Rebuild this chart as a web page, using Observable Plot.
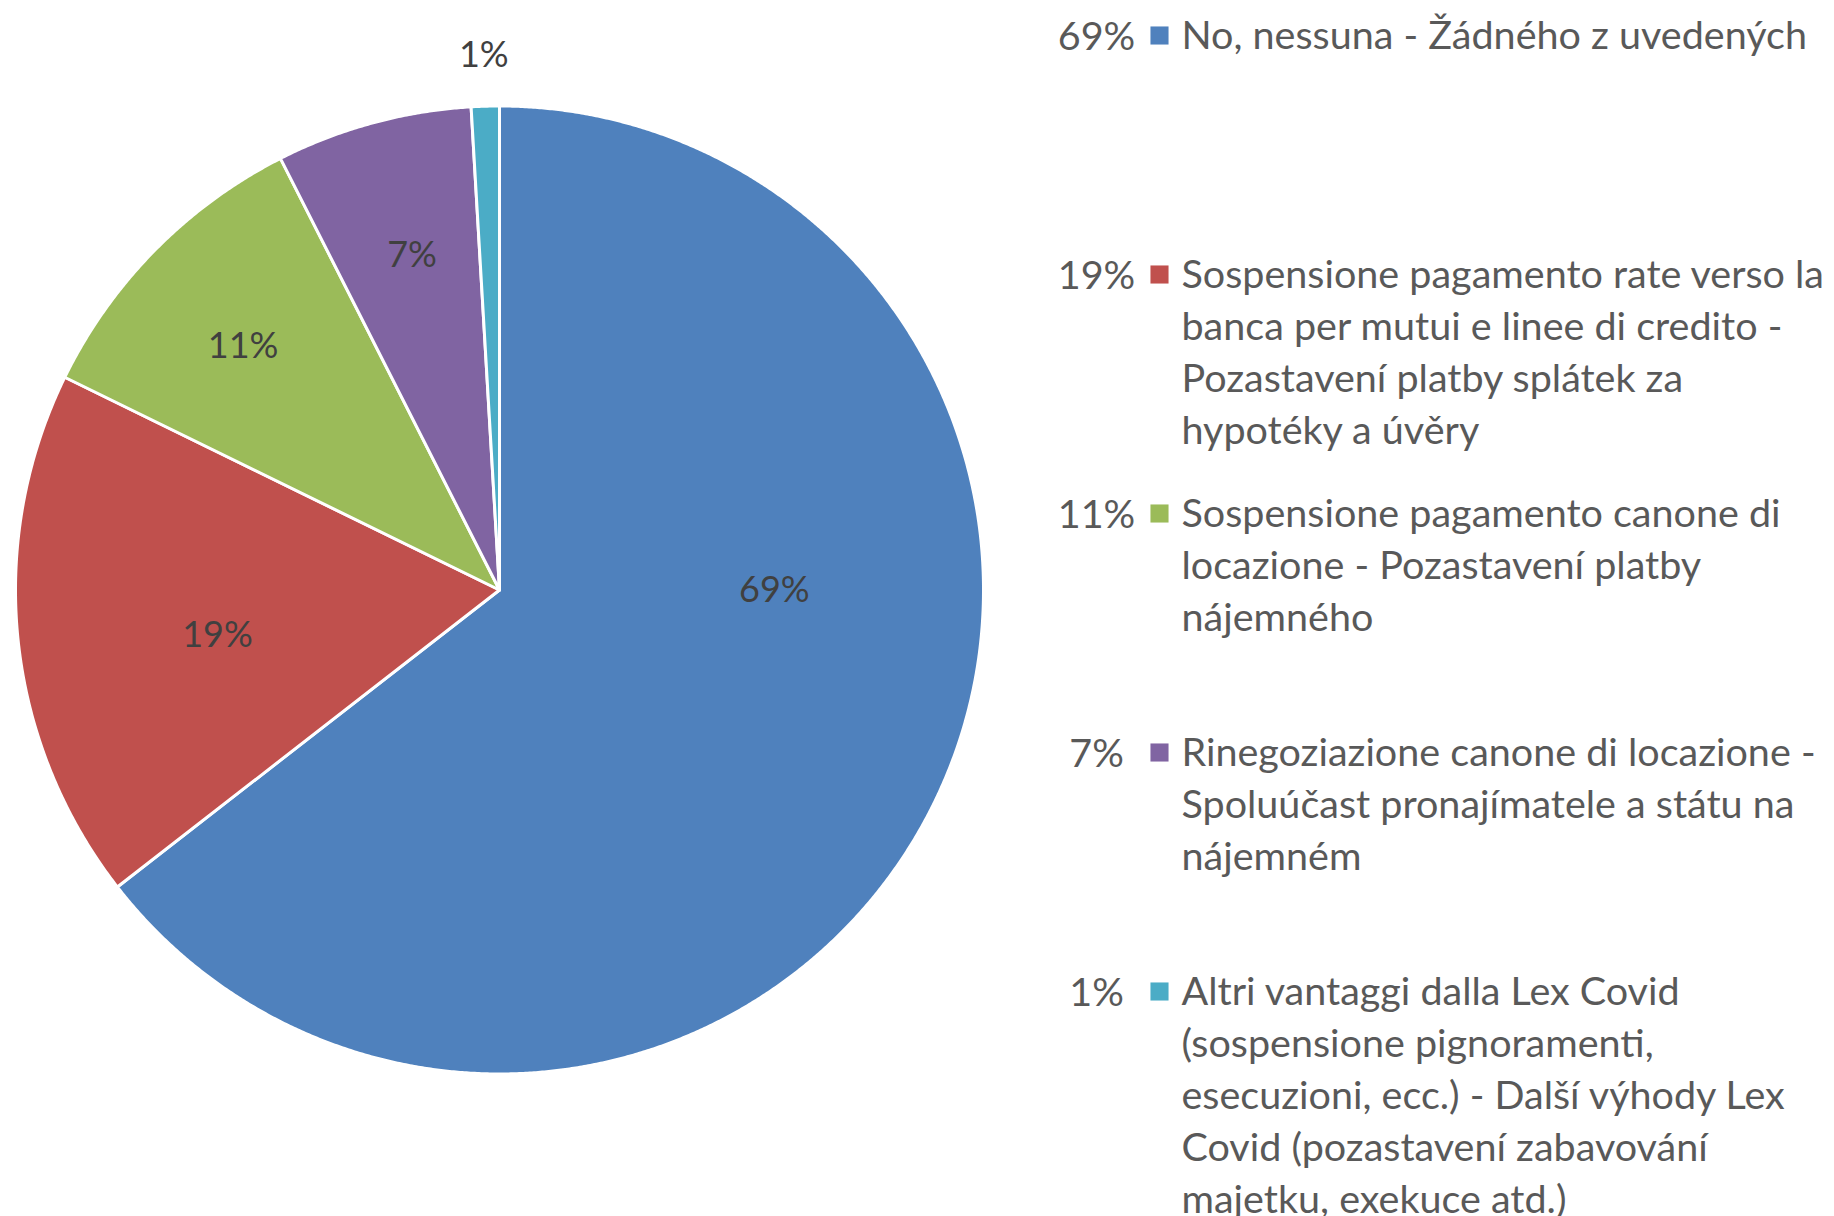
<!DOCTYPE html>
<html><head><meta charset="utf-8">
<script src="https://cdn.jsdelivr.net/npm/d3@7"></script>
<script src="https://cdn.jsdelivr.net/npm/@observablehq/plot@0.6"></script>
<style>
body{margin:0;background:#fff;}
#wrap{display:flex;width:1834px;height:1216px;overflow:hidden;}
#wrap svg{flex:none;}
</style></head><body><div id="wrap"></div>
<script>
// Categories (legend text, with the reference's line wrapping)
const categories = [
  "No, nessuna - Žádného z uvedených",
  "Sospensione pagamento rate verso la\nbanca per mutui e linee di credito -\nPozastavení platby splátek za\nhypotéky a úvěry",
  "Sospensione pagamento canone di\nlocazione - Pozastavení platby\nnájemného",
  "Rinegoziazione canone di locazione -\nSpoluúčast pronajímatele a státu na\nnájemném",
  "Altri vantaggi dalla Lex Covid\n(sospensione pignoramenti,\nesecuzioni, ecc.) - Další výhody Lex\nCovid (pozastavení zabavování\nmajetku, exekuce atd.)"
];
const values = [69, 19, 11, 7, 1];
const percentLabels = ["69%", "19%", "11%", "7%", "1%"];
const colors = ["#4F81BD", "#C0504D", "#9BBB59", "#8064A2", "#4BACC6"];
// label placement inside each slice (fraction along the slice, radius fraction) — Excel "best fit"
const labelFrac = [0.388, 0.45, 0.47, 0.52, 0.5];
const labelRadius = [0.568, 0.59, 0.73, 0.714, 1.105];

const TAU = 2 * Math.PI;
const total = d3.sum(values);
let cum = 0;
const slices = categories.map((c, i) => {
  const start = cum / total; cum += values[i];
  return {cat: c, start, end: cum / total, label: percentLabels[i], frac: labelFrac[i], rad: labelRadius[i]};
});
const pts = [];
for (const s of slices) {
  pts.push({cat: s.cat, t: s.start, r: 0});
  const n = Math.max(4, Math.ceil((s.end - s.start) * 1440));
  for (let k = 0; k <= n; k++) pts.push({cat: s.cat, t: s.start + (s.end - s.start) * k / n, r: 1});
}

const font = "Lato, 'Open Sans', sans-serif";

const pie = Plot.plot({
  width: 1000, height: 1216, margin: 0,
  x: {domain: [-1, 1], range: [15, 983], axis: null},
  y: {domain: [-1, 1], range: [1073.5, 105.5], axis: null},
  color: {domain: categories, range: colors},
  style: {fontFamily: font, background: "transparent", overflow: "visible"},
  marks: [
    Plot.line(pts, {
      x: d => d.r * Math.sin(TAU * d.t), y: d => d.r * Math.cos(TAU * d.t),
      z: "cat", fill: "cat", stroke: "white", strokeWidth: 3,
      strokeLinejoin: "round", curve: "linear-closed"
    }),
    Plot.text(slices, {
      x: d => d.rad * Math.sin(TAU * (d.start + d.frac * (d.end - d.start))),
      y: d => d.rad * Math.cos(TAU * (d.start + d.frac * (d.end - d.start))),
      text: "label", fontSize: 36, fill: "#404040"
    })
  ]
});

const legendRows = categories.map((c, i) => ({cat: c, pct: percentLabels[i]}));
const legend = Plot.plot({
  width: 834, height: 1216, margin: 0,
  y: {type: "point", domain: categories, range: [35, 991], padding: 0, axis: null},
  color: {domain: categories, range: colors},
  style: {fontFamily: font, background: "transparent", overflow: "visible"},
  marks: [
    Plot.text(legendRows, {y: "cat", text: "pct", frameAnchor: "left", dx: 96, textAnchor: "middle",
      lineAnchor: "top", dy: -14, fontSize: 39.5, fill: "#595959"}),
    Plot.dot(legendRows, {y: "cat", frameAnchor: "left", dx: 159, symbol: "square", r: 10.2, fill: "cat", stroke: null}),
    Plot.text(legendRows, {y: "cat", text: "cat", frameAnchor: "left", dx: 181, textAnchor: "start",
      lineAnchor: "top", dy: -24, lineHeight: 1.32, fontSize: 39.5, fill: "#595959"})
  ]
});

document.getElementById("wrap").append(pie, legend);
</script>
</body></html>
